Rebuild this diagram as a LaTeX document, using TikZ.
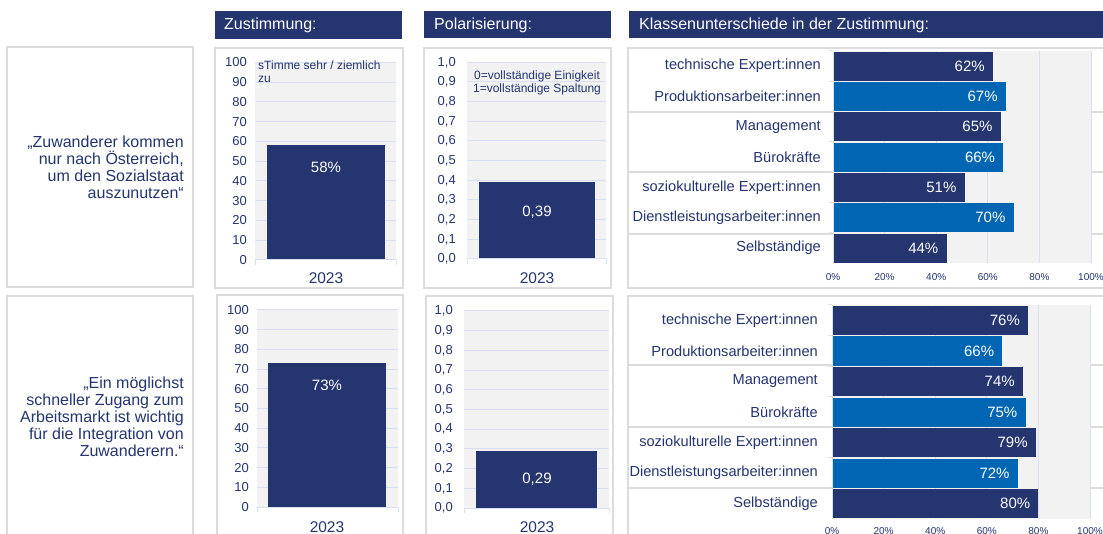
\documentclass[tikz,border=0pt]{standalone}
\usepackage{fontspec}
\setmainfont{Liberation Sans}
\definecolor{navy}{HTML}{243570}
\definecolor{midblue}{HTML}{0066B3}
\definecolor{plotgray}{HTML}{F2F2F2}
\definecolor{gridblue}{HTML}{D9DFF2}
\definecolor{framegray}{HTML}{DCDCDC}
\tikzset{
	frame/.style={draw=framegray, line width=1.3pt},
	gridln/.style={draw=gridblue, line width=1pt},
	headtext/.style={anchor=west, inner sep=0pt, text=white, font=\fontsize{16}{18}\selectfont},
	quote/.style={anchor=east, inner sep=0pt, align=right, text=navy, font=\fontsize{16}{16.9}\selectfont},
	ticklab/.style={anchor=east, inner sep=0pt, text=navy, font=\fontsize{13}{14}\selectfont},
	yearlab/.style={inner sep=0pt, text=navy, font=\fontsize{15.5}{16}\selectfont},
	vallab/.style={inner sep=0pt, text=white, font=\fontsize{15}{16}\selectfont},
	notelab/.style={inner sep=0pt, text=navy, font=\fontsize{12}{13}\selectfont},
	catlab/.style={anchor=east, inner sep=0pt, text=navy, font=\fontsize{14.6}{16}\selectfont},
	barlab/.style={anchor=east, inner sep=0pt, text=white, font=\fontsize{15}{16}\selectfont},
	axlab/.style={inner sep=0pt, text=navy, font=\fontsize{10}{11}\selectfont}
}
\begin{document}
\begin{tikzpicture}[x=1pt, y=-1pt]
	\clip (0,0) rectangle (1103,534);
	\fill[white] (0,0) rectangle (1103,534);

	% header bars
	\fill[navy] (215,11) rectangle (402,39);
	\node[headtext](hZust) at (224,25){Zustimmung:};
	\fill[navy] (424,11) rectangle (611,38);
	\node[headtext](hPol) at (434,25){Polarisierung:};
	\fill[navy] (629,11) rectangle (1110,38);
	\node[headtext](hKlass) at (639,25){Klassenunterschiede in der Zustimmung:};

	% frames
	\draw[frame] (7,47) rectangle (193,287);
	\draw[frame] (215,48) rectangle (403,288);
	\draw[frame] (424,48) rectangle (611,288);
	\draw[frame] (628,48) rectangle (1112,288);
	\draw[frame] (7,296) rectangle (193,545);
	\draw[frame] (217,295) rectangle (403,545);
	\draw[frame] (426,296) rectangle (613,545);
	\draw[frame] (628,296) rectangle (1112,545);

	% quotes
	\node[quote](quoteA) at (184,167){„Zuwanderer kommen\\nur nach Österreich,\\um den Sozialstaat\\auszunutzen“};
	\node[quote](quoteB) at (184,417){„Ein möglichst\\schneller Zugang zum\\Arbeitsmarkt ist wichtig\\für die Integration von\\Zuwanderern.“};

	% Zustimmung, top
	\fill[plotgray] (255,62.3) rectangle (396,260);
	\foreach \k in {1,...,10}
		\draw[gridln] (255,{260-19.77*\k}) -- (396,{260-19.77*\k});
	\foreach \k in {0,...,10}
		\node[ticklab](zA\k) at (247,{260-19.77*\k}){\the\numexpr\k*10\relax};
	\fill[navy] (267,145.5) rectangle (385,260);
	\draw[gridln] (255,265) -- (255,260) -- (396,260) -- (396,265);
	\node[vallab](zAval) at (326,167){58\%};
	\node[yearlab](zAyear) at (326,278){2023};
	\node[notelab, anchor=north west, align=left](zAnote) at (258,61){sTimme sehr / ziemlich\\zu};

	% Zustimmung, bottom
	\fill[plotgray] (257,310) rectangle (398,507);
	\foreach \k in {1,...,10}
		\draw[gridln] (257,{507-19.7*\k}) -- (398,{507-19.7*\k});
	\foreach \k in {0,...,10}
		\node[ticklab](zB\k) at (249,{507-19.7*\k}){\the\numexpr\k*10\relax};
	\fill[navy] (268,363) rectangle (386,507);
	\draw[gridln] (257,512) -- (257,507) -- (398,507) -- (398,512);
	\node[vallab](zBval) at (327,385){73\%};
	\node[yearlab](zByear) at (327,527){2023};

	% Polarisierung, top
	\fill[plotgray] (467,62.3) rectangle (606,259);
	\foreach \k in {1,...,10}
		\draw[gridln] (467,{259-19.67*\k}) -- (606,{259-19.67*\k});
	\foreach \k/\t in {0/{0,0},1/{0,1},2/{0,2},3/{0,3},4/{0,4},5/{0,5},6/{0,6},7/{0,7},8/{0,8},9/{0,9},10/{1,0}}
		\node[ticklab](pA\k) at (456,{259-19.67*\k}){\t};
	\fill[navy] (479,182) rectangle (595,259);
	\draw[gridln] (467,264) -- (467,259) -- (606,259) -- (606,264);
	\node[vallab](pAval) at (537,212){0,39};
	\node[yearlab](pAyear) at (537,278){2023};
	\node[notelab, align=center](pAnote) at (537,82.5){0=vollständige Einigkeit\\1=vollständige Spaltung};

	% Polarisierung, bottom
	\fill[plotgray] (464,311) rectangle (609,508);
	\foreach \k in {1,...,10}
		\draw[gridln] (464,{508-19.7*\k}) -- (609,{508-19.7*\k});
	\foreach \k/\t in {0/{0,0},1/{0,1},2/{0,2},3/{0,3},4/{0,4},5/{0,5},6/{0,6},7/{0,7},8/{0,8},9/{0,9},10/{1,0}}
		\node[ticklab](pB\k) at (453,{508-19.7*\k}){\t};
	\fill[navy] (476,451) rectangle (597,508);
	\draw[gridln] (464,513) -- (464,508) -- (609,508) -- (609,513);
	\node[vallab](pBval) at (537,479){0,29};
	\node[yearlab](pByear) at (537,527){2023};

	% Klassenunterschiede, top
	\foreach \y in {112,172,234}
		\draw[frame] (628,\y) -- (1112,\y);
	\fill[plotgray] (833,51) rectangle (1091,263);
	\foreach \k in {0,...,5}
		\draw[gridln] ({833+51.6*\k},51) -- ({833+51.6*\k},263);
	\foreach \lab/\val/\col [count=\i from 0] in {technische Expert:innen/62/navy, Produktionsarbeiter:innen/67/midblue, Management/65/navy, Bürokräfte/66/midblue, soziokulturelle Expert:innen/51/navy, Dienstleistungsarbeiter:innen/70/midblue, Selbständige/44/navy}{
		\fill[\col] (834,{51.8+30.29*\i}) rectangle ({833+2.58*\val},{50.5+30.29*(\i+1)});
		\draw[gridln] (829,{51+30.29*\i}) -- (833,{51+30.29*\i});
		\node[catlab](kA\i) at (821,{51+30.29*(\i+0.5)}){\lab};
		\node[barlab](kAv\i) at ({825+2.58*\val},{51+30.29*(\i+0.5)}){\val\%};
	}
	\foreach \k in {0,...,5}
		\node[axlab](kAx\k) at ({833+51.6*\k},277){\the\numexpr\k*20\relax\%};

	% Klassenunterschiede, bottom
	\foreach \y in {365,427,488}
		\draw[frame] (628,\y) -- (1112,\y);
	\fill[plotgray] (832,305) rectangle (1090,519);
	\foreach \k in {0,...,5}
		\draw[gridln] ({832+51.6*\k},305) -- ({832+51.6*\k},519);
	\foreach \lab/\val/\col [count=\i from 0] in {technische Expert:innen/76/navy, Produktionsarbeiter:innen/66/midblue, Management/74/navy, Bürokräfte/75/midblue, soziokulturelle Expert:innen/79/navy, Dienstleistungsarbeiter:innen/72/midblue, Selbständige/80/navy}{
		\fill[\col] (833,{305.8+30.57*\i}) rectangle ({832+2.58*\val},{304.5+30.57*(\i+1)});
		\draw[gridln] (828,{305+30.57*\i}) -- (832,{305+30.57*\i});
		\node[catlab](kB\i) at (818,{305+30.57*(\i+0.5)}){\lab};
		\node[barlab](kBv\i) at ({824+2.58*\val},{305+30.57*(\i+0.5)}){\val\%};
	}
	\foreach \k in {0,...,5}
		\node[axlab](kBx\k) at ({832+51.6*\k},531){\the\numexpr\k*20\relax\%};
\end{tikzpicture}
\end{document}
